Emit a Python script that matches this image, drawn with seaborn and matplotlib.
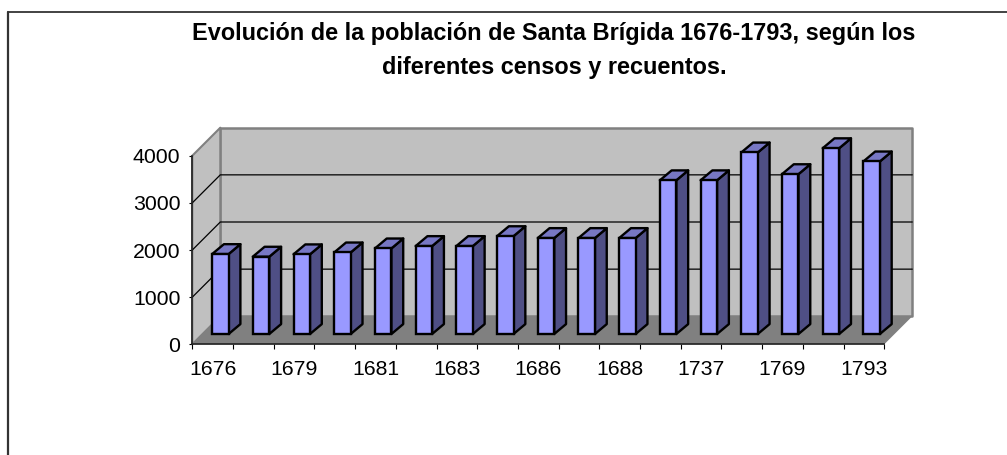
import matplotlib
matplotlib.use("Agg")
import matplotlib.pyplot as plt
from matplotlib.lines import Line2D
from matplotlib.patches import Polygon
import numpy as np
import pandas as pd
import seaborn as sn

# only every second label is shown in the chart
tick_labels = ["1676", "", "1679", "", "1681", "", "1683", "", "1686", "", "1688", "", "1737", "", "1769", "", "1793"]
poblacion = [1695, 1640, 1690, 1730, 1815, 1865, 1865, 2075, 2035, 2035, 2035, 3260, 3260, 3850, 3390, 3940, 3660]
y_ticks = [0, 1000, 2000, 3000, 4000]
titulo = "Evolución de la población de Santa Brígida 1676-1793, según los\ndiferentes censos y recuentos."

W, H = 1007, 455
sn.set_theme(style="white")
plt.rcParams["font.family"] = ["Liberation Sans", "DejaVu Sans"]

fig = plt.figure(figsize=(W / 100, H / 100), dpi=100)
left, right, top, bottom = 192.3, 884.3, 155.7, 344.3
ax = fig.add_axes([left / W, 1 - bottom / H, (right - left) / W, (bottom - top) / H])
ax.patch.set_alpha(0)

df = pd.DataFrame({"pos": np.arange(len(poblacion)), "poblacion": poblacion})
sn.barplot(data=df, x="pos", y="poblacion", color="#9999FF", saturation=1, width=0.405,
           edgecolor="black", linewidth=1.7, ax=ax)
n = len(poblacion)
ax.set_xlim(-0.5, n - 0.5)
ax.set_ylim(y_ticks[0], y_ticks[-1])

# size of one pixel in data units, the 3d look is worked out from it
px = n / (right - left)
py = y_ticks[-1] / (bottom - top)
wall_dx, wall_dy = 28 * px, 28 * py
bar_ox, bar_oy = 7.7 * px, 10.3 * py
depth_x, depth_y = 11.8 * px, 9.9 * py
x0, x1 = -0.5, n - 0.5
y1 = y_ticks[-1]


def face(points, color, z, edge="none", lw=0):
    ax.add_patch(Polygon(points, closed=True, facecolor=color, edgecolor=edge, linewidth=lw,
                         zorder=z, clip_on=False, joinstyle="round"))


# back wall, side wall, floor
face([(x0 + wall_dx, wall_dy), (x1 + wall_dx, wall_dy), (x1 + wall_dx, y1 + wall_dy), (x0 + wall_dx, y1 + wall_dy)],
     "#C0C0C0", 0.5, "#808080", 1.8)
face([(x0, 0), (x0 + wall_dx, wall_dy), (x0 + wall_dx, y1 + wall_dy), (x0, y1)], "#C0C0C0", 0.5, "#808080", 1.5)
face([(x0, 0), (x1, 0), (x1 + wall_dx, wall_dy), (x0 + wall_dx, wall_dy)], "#808080", 0.6)

for t in y_ticks[1:-1]:
    ax.plot([x0, x0 + wall_dx, x1 + wall_dx], [t, t + wall_dy, t + wall_dy], color="black", lw=0.9,
            zorder=0.7, clip_on=False)

for p in ax.patches:
    if p.get_zorder() < 1:
        continue
    # move the seaborn bar off the front plane, then add side and top
    p.set_x(p.get_x() + bar_ox)
    p.set_y(p.get_y() + bar_oy)
    p.set_zorder(3)
    p.set_clip_on(False)
    xa, xb = p.get_x(), p.get_x() + p.get_width()
    ya, yb = p.get_y(), p.get_y() + p.get_height()
    face([(xb, ya), (xb + depth_x, ya + depth_y), (xb + depth_x, yb + depth_y), (xb, yb)],
         "#4F4F85", 2.9, "black", 1.7)
    face([(xa, yb), (xb, yb), (xb + depth_x, yb + depth_y), (xa + depth_x, yb + depth_y)],
         "#7777C4", 2.9, "black", 1.7)

for s in ["top", "right"]:
    ax.spines[s].set_visible(False)
for s in ["left", "bottom"]:
    ax.spines[s].set_color("#222222")
    ax.spines[s].set_linewidth(1.2)
    ax.spines[s].set_zorder(4)

ax.set_xlabel("")
ax.set_ylabel("")
ax.set_yticks(y_ticks)
ax.set_xticks(np.arange(n))
ax.set_xticklabels(tick_labels)
ax.set_xticks(np.arange(n + 1) - 0.5, minor=True)
ax.tick_params(axis="x", which="major", length=0, pad=11.5, labelsize=15.3, colors="black")
ax.tick_params(axis="x", which="minor", length=3.6, width=0.8, color="black", bottom=True)
ax.tick_params(axis="y", length=2.5, width=0.8, pad=6, labelsize=15.3, colors="black", left=True)

fig.text(554 / W, 1 - 50.3 / H, titulo, ha="center", va="center", fontsize=16.9, fontweight="bold",
         linespacing=1.6, color="black")

# chart frame, only top and left are inside the picture
fig.add_artist(Line2D([7.5 / W, 1], [1 - 12 / H, 1 - 12 / H], color="#222222", lw=1.2))
fig.add_artist(Line2D([7.5 / W, 7.5 / W], [1 - 12 / H, 0], color="#333333", lw=1.6))

fig.savefig("out.png", dpi=100)
